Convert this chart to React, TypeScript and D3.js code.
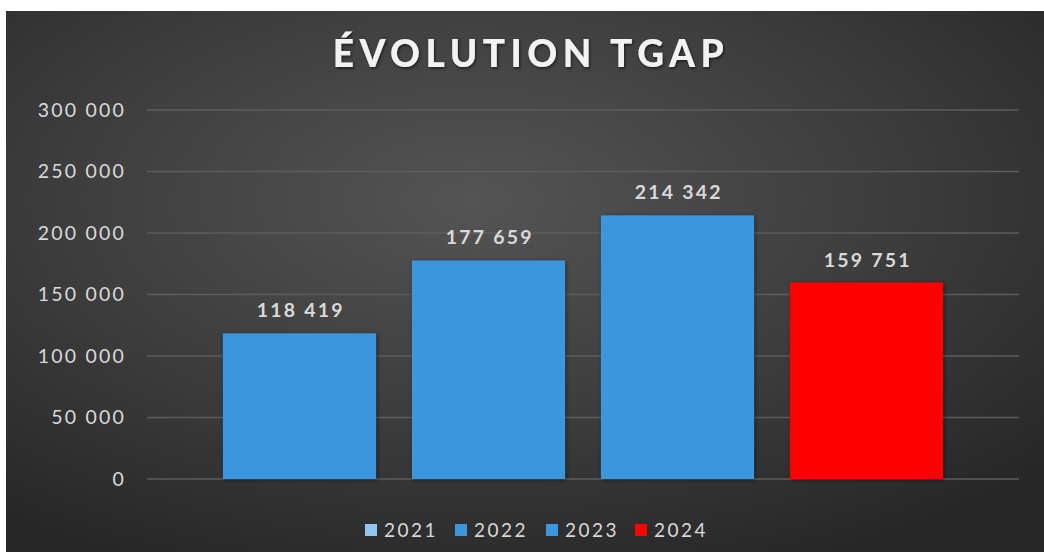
import React from "react";
import * as d3 from "d3";

const categories = ["2021", "2022", "2023", "2024"];
const values = [118419, 177659, 214342, 159751];
const barColors = ["#3a96dd", "#3a96dd", "#3a96dd", "#ff0000"];
const legendColors = ["#8ec6f0", "#3a96dd", "#3a96dd", "#ff0000"];
const yTicks = [0, 50000, 100000, 150000, 200000, 250000, 300000];
const title = "ÉVOLUTION TGAP";

const W = 1044;
const H = 552;

const fmt = (v: number) => {
  const s = String(Math.round(v));
  return s.replace(/\B(?=(\d{3})+(?!\d))/g, "\u00a0");
};

export default function App() {
  const x = d3.scaleBand<string>().domain(categories).range([205, 961]).paddingInner(0.19).paddingOuter(0.095);
  const y = d3.scaleLinear().domain([0, 300000]).range([479, 110]);
  const font = "'Lato', 'Open Sans', 'DejaVu Sans', sans-serif";
  const legendX = [365, 455, 546, 635];

  return (
    <svg width={W} height={H} style={{ position: "absolute", left: 0, top: 0 }}>
      <defs>
        <radialGradient id="bg" cx="45%" cy="35%" r="75%">
          <stop offset="0%" stopColor="#545454" />
          <stop offset="55%" stopColor="#3c3c3c" />
          <stop offset="100%" stopColor="#262626" />
        </radialGradient>
        <filter id="sh" x="-10%" y="-10%" width="130%" height="130%">
          <feDropShadow dx="1" dy="1" stdDeviation="2" floodColor="#000" floodOpacity="0.5" />
        </filter>
        <filter id="tsh" x="-10%" y="-30%" width="120%" height="160%">
          <feDropShadow dx="1" dy="1.5" stdDeviation="1.5" floodColor="#000" floodOpacity="0.6" />
        </filter>
      </defs>
      <rect x={0} y={0} width={W} height={H} fill="#ffffff" />
      <rect x={6} y={11} width={W - 6} height={H - 11} fill="url(#bg)" />
      <text x={531} y={67} textAnchor="middle" fill="#f2f2f2" fontFamily={font} fontWeight={900} fontSize={37} letterSpacing={5.5} filter="url(#tsh)">
        {title}
      </text>
      {yTicks.map((t) => (
        <g key={t}>
          <line x1={147} x2={1019} y1={y(t)} y2={y(t)} stroke="#5c5c5c" strokeWidth={1.5} />
          <text x={126} y={y(t)} dy="0.35em" textAnchor="end" fill="#d9d9d9" fontFamily={font} fontSize={19.5} letterSpacing={2.2}>
            {fmt(t)}
          </text>
        </g>
      ))}
      {categories.map((c, i) => {
        const bx = x(c)!;
        const bw = x.bandwidth();
        const top = y(values[i]);
        return (
          <g key={c}>
            <rect x={bx} y={top} width={bw} height={y(0) - top} fill={barColors[i]} filter="url(#sh)" />
            <text x={bx + bw / 2 + 1.2} y={top - 16} textAnchor="middle" fill="#d9d9d9" fontFamily={font} fontWeight={700} fontSize={19.5} letterSpacing={2.2}>
              {fmt(values[i])}
            </text>
          </g>
        );
      })}
      {categories.map((c, i) => (
        <g key={"lg" + c}>
          <rect x={legendX[i]} y={524} width={12} height={12} fill={legendColors[i]} />
          <text x={legendX[i] + 19} y={530} dy="0.36em" fill="#d9d9d9" fontFamily={font} fontSize={19} letterSpacing={2.5}>
            {c}
          </text>
        </g>
      ))}
    </svg>
  );
}
